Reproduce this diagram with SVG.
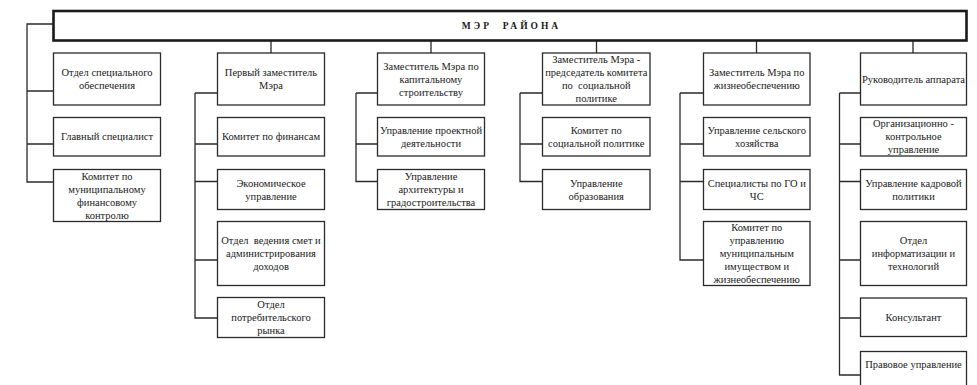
<svg xmlns="http://www.w3.org/2000/svg" width="977" height="385" viewBox="0 0 977 385">
<style>
.box{fill:#fff;stroke:#2a2a2a;stroke-width:1.3}
.top{fill:#fff;stroke:#1a1a1a;stroke-width:2.6}
.ln{fill:none;stroke:#2a2a2a;stroke-width:1.3}
text{font-family:"Liberation Serif","Times New Roman",serif;font-size:10.5px;fill:#1a1a1a;text-anchor:middle}
.title{font-weight:bold;font-size:9.5px;letter-spacing:3px}
</style>
<rect width="977" height="385" fill="#fff"/>
<g id="connectors">
<path class="ln" d="M53.5,24H27V182H53.5M27,91H53.5M27,144H53.5"/>
<path class="ln" d="M271,40.5V53M195,93V318H217.5M195,93H217.5M195,144H217.5M195,181.5H217.5M195,260H217.5"/>
<path class="ln" d="M431,40.5V53M356,93V181.5H377.5M356,93H377.5M356,144H377.5"/>
<path class="ln" d="M596.5,40.5V53M520,93V181.5H542.5M520,93H542.5M520,144H542.5"/>
<path class="ln" d="M756.5,40.5V53M680,93V260H703.5M680,93H703.5M680,144H703.5M680,181.5H703.5"/>
<path class="ln" d="M913,40.5V53M839.5,93V375H860.5M839.5,93H860.5M839.5,144H860.5M839.5,181.5H860.5M839.5,260H860.5M839.5,318H860.5"/>
</g>
<g id="mayor">
<rect class="top" x="53.5" y="11" width="913" height="29.5"/>
<text class="title" x="511.5" y="29" xml:space="preserve">МЭР  РАЙОНА</text>
</g>
<g id="c1b1"><rect class="box" x="53.5" y="53" width="107" height="52"/><text x="107"><tspan x="107" y="76">Отдел специального</tspan><tspan x="107" y="89">обеспечения</tspan></text></g>
<g id="c1b2"><rect class="box" x="53.5" y="117.5" width="107" height="38.5"/><text x="107" y="140.25">Главный специалист</text></g>
<g id="c1b3"><rect class="box" x="53.5" y="169.5" width="107" height="52"/><text x="107"><tspan x="107" y="179.5">Комитет по</tspan><tspan x="107" y="192.5">муниципальному</tspan><tspan x="107" y="205.5">финансовому</tspan><tspan x="107" y="218.5">контролю</tspan></text></g>

<g id="c2b1"><rect class="box" x="217.5" y="53" width="107" height="52"/><text x="271"><tspan x="271" y="76">Первый заместитель</tspan><tspan x="271" y="89">Мэра</tspan></text></g>
<g id="c2b2"><rect class="box" x="217.5" y="117.5" width="107" height="38.5"/><text x="271" y="140.25">Комитет по финансам</text></g>
<g id="c2b3"><rect class="box" x="217.5" y="169.5" width="107" height="40"/><text x="271"><tspan x="271" y="186.5">Экономическое</tspan><tspan x="271" y="199.5">управление</tspan></text></g>
<g id="c2b4"><rect class="box" x="217.5" y="221.5" width="107" height="64"/><text x="271" xml:space="preserve"><tspan x="271" y="244">Отдел  ведения смет и</tspan><tspan x="271" y="257">администрирования</tspan><tspan x="271" y="270">доходов</tspan></text></g>
<g id="c2b5"><rect class="box" x="217.5" y="297.5" width="107" height="40"/><text x="271"><tspan x="271" y="308">Отдел</tspan><tspan x="271" y="321">потребительского</tspan><tspan x="271" y="334">рынка</tspan></text></g>

<g id="c3b1"><rect class="box" x="377.5" y="53" width="107" height="52"/><text x="431"><tspan x="431" y="69.5">Заместитель Мэра по</tspan><tspan x="431" y="82.5">капитальному</tspan><tspan x="431" y="95.5">строительству</tspan></text></g>
<g id="c3b2"><rect class="box" x="377.5" y="117.5" width="107" height="38.5"/><text x="431"><tspan x="431" y="133.75">Управление проектной</tspan><tspan x="431" y="146.75">деятельности</tspan></text></g>
<g id="c3b3"><rect class="box" x="377.5" y="169.5" width="107" height="40"/><text x="431"><tspan x="431" y="180">Управление</tspan><tspan x="431" y="193">архитектуры и</tspan><tspan x="431" y="206">градостроительства</tspan></text></g>

<g id="c4b1"><rect class="box" x="542.5" y="53" width="107.5" height="52"/><text x="596.25" xml:space="preserve"><tspan x="596.25" y="63">Заместитель Мэра -</tspan><tspan x="596.25" y="76">председатель комитета</tspan><tspan x="596.25" y="89">по  социальной</tspan><tspan x="596.25" y="102">политике</tspan></text></g>
<g id="c4b2"><rect class="box" x="542.5" y="117.5" width="107.5" height="38.5"/><text x="596.25"><tspan x="596.25" y="133.75">Комитет по</tspan><tspan x="596.25" y="146.75">социальной политике</tspan></text></g>
<g id="c4b3"><rect class="box" x="542.5" y="169.5" width="107.5" height="40"/><text x="596.25"><tspan x="596.25" y="186.5">Управление</tspan><tspan x="596.25" y="199.5">образования</tspan></text></g>

<g id="c5b1"><rect class="box" x="703.5" y="53" width="106.5" height="52"/><text x="756.75"><tspan x="756.75" y="76">Заместитель Мэра по</tspan><tspan x="756.75" y="89">жизнеобеспечению</tspan></text></g>
<g id="c5b2"><rect class="box" x="703.5" y="117.5" width="106.5" height="38.5"/><text x="756.75"><tspan x="756.75" y="133.75">Управление сельского</tspan><tspan x="756.75" y="146.75">хозяйства</tspan></text></g>
<g id="c5b3"><rect class="box" x="703.5" y="169.5" width="106.5" height="40"/><text x="756.75"><tspan x="756.75" y="186.5">Специалисты по ГО и</tspan><tspan x="756.75" y="199.5">ЧС</tspan></text></g>
<g id="c5b4"><rect class="box" x="703.5" y="221.5" width="106.5" height="64"/><text x="756.75"><tspan x="756.75" y="231">Комитет по</tspan><tspan x="756.75" y="244">управлению</tspan><tspan x="756.75" y="257">муниципальным</tspan><tspan x="756.75" y="270">имуществом и</tspan><tspan x="756.75" y="283">жизнеобеспечению</tspan></text></g>

<g id="c6b1"><rect class="box" x="860.5" y="53" width="106" height="52"/><text x="913.5" y="82.5">Руководитель аппарата</text></g>
<g id="c6b2"><rect class="box" x="860.5" y="117.5" width="106" height="38.5"/><text x="913.5"><tspan x="913.5" y="127.25">Организационно -</tspan><tspan x="913.5" y="140.25">контрольное</tspan><tspan x="913.5" y="153.25">управление</tspan></text></g>
<g id="c6b3"><rect class="box" x="860.5" y="169.5" width="106" height="40"/><text x="913.5"><tspan x="913.5" y="186.5">Управление кадровой</tspan><tspan x="913.5" y="199.5">политики</tspan></text></g>
<g id="c6b4"><rect class="box" x="860.5" y="221.5" width="106" height="64"/><text x="913.5"><tspan x="913.5" y="244">Отдел</tspan><tspan x="913.5" y="257">информатизации и</tspan><tspan x="913.5" y="270">технологий</tspan></text></g>
<g id="c6b5"><rect class="box" x="860.5" y="298" width="106" height="38.5"/><text x="913.5" y="320.75">Консультант</text></g>
<g id="c6b6"><rect class="box" x="860.5" y="351.5" width="106" height="45"/><text x="913.5" y="367.5">Правовое управление</text></g>
</svg>
